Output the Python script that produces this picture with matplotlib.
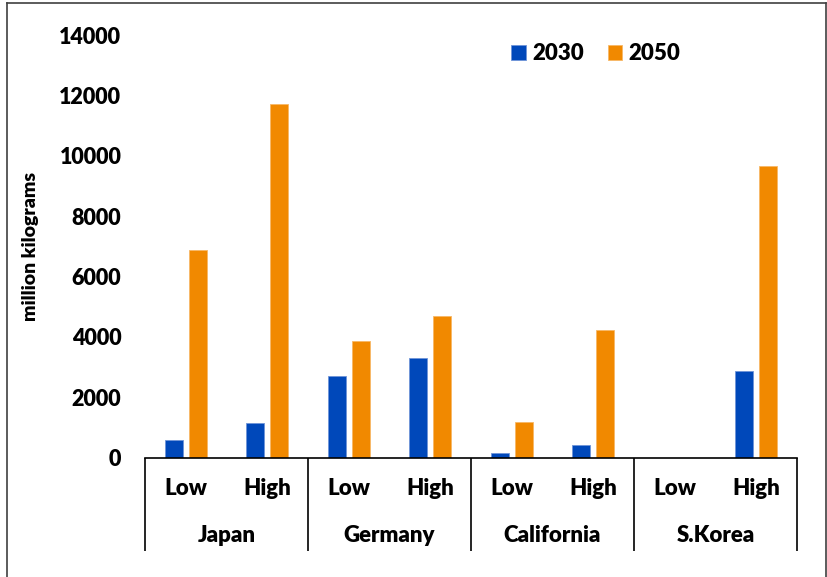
import matplotlib
matplotlib.use("Agg")
import matplotlib.pyplot as plt
import numpy as np
from matplotlib.lines import Line2D

# ── Data ──────────────────────────────────────────────────────────────────────
regions   = ["Japan", "Germany", "California", "S.Korea"]
scenarios = ["Low", "High"]
vals_2030 = [590, 1140, 2690, 3300, 150, 410, 0, 2860]
vals_2050 = [6880, 11700, 3860, 4680, 1180, 4230, 0, 9650]
y_ticks   = [0, 2000, 4000, 6000, 8000, 10000, 12000, 14000]

BLUE   = "#0048BA"
ORANGE = "#F18900"
FS = 16
FW = 800

plt.rcParams["font.family"] = ["Lato", "DejaVu Sans"]

W, H = 828, 577
fig = plt.figure(figsize=(W / 100, H / 100), dpi=100)
ax = fig.add_axes([145 / W, 1 - 457.7 / H, 652 / W, 422.7 / H])

n = len(vals_2030)
x = np.arange(n)
bw, gap = 0.225, 0.07
off = (bw + gap) / 2
ax.bar(x - off, vals_2030, width=bw, color=BLUE, edgecolor="#6f94d8",
       linewidth=0.6, label="2030", zorder=2)
ax.bar(x + off, vals_2050, width=bw, color=ORANGE, edgecolor="#f7b866",
       linewidth=0.6, label="2050", zorder=2)

ax.set_xlim(-0.5, n - 0.5)
ax.set_ylim(0, 14000)
ax.set_yticks(y_ticks)
ax.set_yticklabels([str(v) for v in y_ticks], fontsize=15.5, fontweight=FW)
ax.tick_params(axis="y", length=0, pad=17)
ax.set_xticks([])
ax.spines[["top", "right", "left"]].set_visible(False)
ax.spines["bottom"].set_linewidth(1.2)
ax.spines["bottom"].set_color("black")

ax.set_ylabel("million kilograms", fontsize=14, fontweight=FW)
ax.yaxis.set_label_coords(-0.162, 0.5)

# multi-level category axis
tr = ax.get_xaxis_transform()
labels = [s for _ in regions for s in scenarios]
for i, lab in enumerate(labels):
    ax.text(i, -0.074, lab, transform=tr, ha="center", va="center",
            fontsize=FS, fontweight=FW)
for g, reg in enumerate(regions):
    ax.text(g * 2 + 0.5, -0.183, reg, transform=tr, ha="center", va="center",
            fontsize=FS, fontweight=FW)
for b in range(len(regions) + 1):
    ax.plot([b * 2 - 0.5] * 2, [0, -0.2207], transform=tr, color="black",
            lw=1.2, clip_on=False, solid_capstyle="butt")

ax.legend(loc="upper left", bbox_to_anchor=(0.562, 0.98), ncol=2,
          frameon=False, prop={"size": FS, "weight": FW},
          handlelength=0.65, handleheight=0.65, handletextpad=0.3,
          columnspacing=1.05, borderaxespad=0, borderpad=0)

# outer chart border (bottom edge falls outside the image)
bc = "#404040"
fig.add_artist(Line2D([7 / W, 7 / W], [0, 1 - 3 / H], color=bc, lw=1.2))
fig.add_artist(Line2D([7 / W, 826 / W], [1 - 3 / H, 1 - 3 / H], color=bc, lw=1.2))
fig.add_artist(Line2D([826 / W, 826 / W], [0, 1 - 3 / H], color=bc, lw=1.2))

fig.savefig("out.png", dpi=100)
